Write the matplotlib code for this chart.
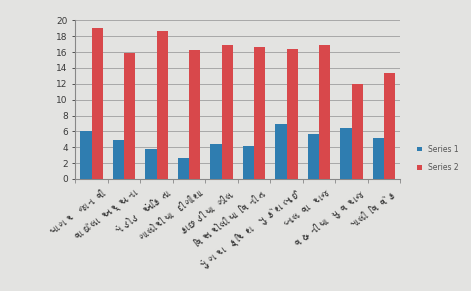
import matplotlib
matplotlib.use("Agg")
import matplotlib.pyplot as plt
import numpy as np
from matplotlib import font_manager
from matplotlib.ft2font import FT2Font

categories = ["પાગર જાનવી", "વાઘેલા અર્ચના", "મંડોડ અંકિતા", "ગાલોરીયા દીગીશા",
              "કાછડીયા ઝીલ", "વિસરોલીયા વિનીત", "મુંગરા ક્રિશ મુકેશભાઈ",
              "બાલવા રાજ", "વઢનીયા યુવરાજ", "માલી વિવેક"]
series1 = [6.0, 4.9, 3.8, 2.6, 4.4, 4.2, 6.9, 5.7, 6.4, 5.2]
series2 = [19.0, 15.9, 18.6, 16.3, 16.9, 16.7, 16.4, 16.9, 12.0, 13.4]
yticks = list(range(0, 21, 2))

# find a font with Gujarati glyphs
guj_family = None
for f in font_manager.fontManager.ttflist:
    try:
        cm = FT2Font(f.fname).get_charmap()
        if 0x0A95 in cm and 0x0ABF in cm:
            guj_family = f.name
            break
    except Exception:
        pass
families = ([guj_family] if guj_family else []) + ["DejaVu Sans"]

bg = "#e3e3e1"
fig = plt.figure(figsize=(4.71, 2.91), dpi=100, facecolor=bg)
ax = fig.add_axes([0.16, 0.385, 0.69, 0.545], facecolor=bg)

x = np.arange(len(categories))
w = 0.35
ax.bar(x - w / 2, series1, w, color="#2f7db0", label="Series 1", zorder=3)
ax.bar(x + w / 2, series2, w, color="#d8484b", label="Series 2", zorder=3)

ax.set_xlim(-0.5, len(categories) - 0.5)
ax.set_ylim(0, 20)
ax.set_yticks(yticks)
ax.yaxis.grid(True, color="#a8a8a8", linewidth=0.7, zorder=0)
ax.tick_params(axis="y", labelsize=6.5, colors="#3a3a3a", length=2, width=0.6)
for s in ["top", "right"]:
    ax.spines[s].set_visible(False)
ax.spines["left"].set_color("#888888")
ax.spines["bottom"].set_color("#888888")

ax.set_xticks(np.arange(len(categories) + 1) - 0.5, minor=False)
ax.set_xticklabels([])
ax.tick_params(axis="x", length=3, width=0.6, colors="#888888")
for i, c in enumerate(categories):
    ax.text(i + 0.3, -1.2, c, rotation=37, ha="right", va="top", fontsize=7.5,
            color="#3a3a3a", family=families, rotation_mode="anchor")

leg = ax.legend(loc="center left", bbox_to_anchor=(1.03, 0.13), frameon=False,
                fontsize=5.5, handlelength=0.6, handleheight=0.6, labelspacing=1.2)
for t in leg.get_texts():
    t.set_color("#555555")

fig.savefig("out.png", dpi=100, facecolor=bg)
